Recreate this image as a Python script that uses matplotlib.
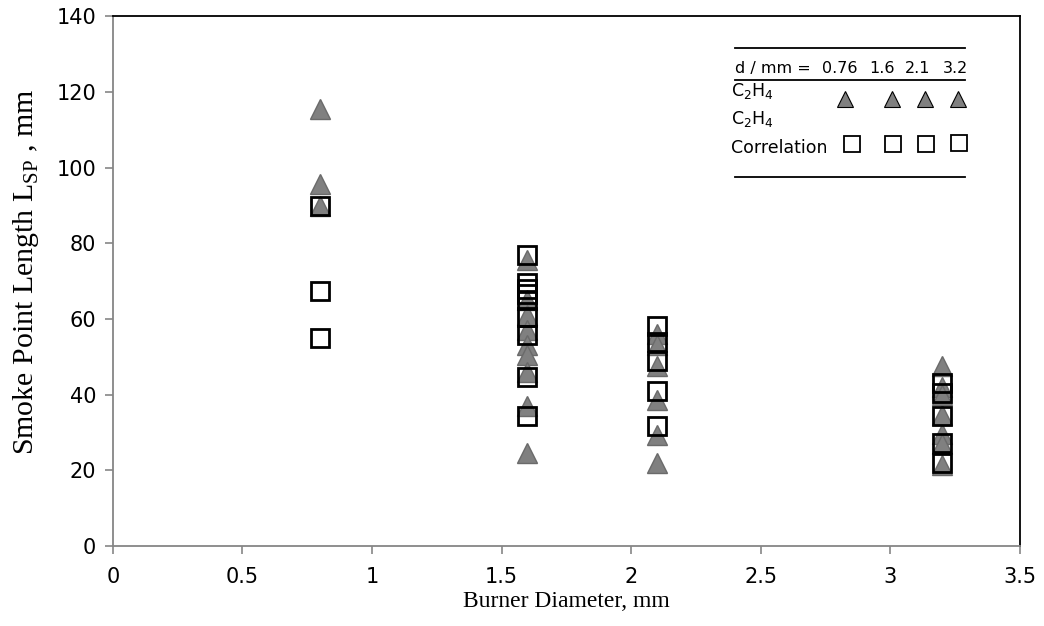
import numpy as np
import matplotlib
matplotlib.use("Agg")
import matplotlib.pyplot as plt

# burner diameters (mm) and smoke point lengths (mm)
d_c2h4 = [0.8, 0.8, 0.8,
          1.6, 1.6, 1.6, 1.6, 1.6, 1.6, 1.6, 1.6, 1.6,
          2.1, 2.1, 2.1, 2.1, 2.1, 2.1,
          3.2, 3.2, 3.2, 3.2, 3.2, 3.2, 3.2]
lsp_c2h4 = [115.5, 95.6, 89.9,
            75.5, 65, 61, 57, 53, 50.5, 46, 37, 24.5,
            56, 53, 47.5, 38.5, 29.3, 22,
            47.5, 42, 40, 34.5, 29.5, 27, 21.5]

d_corr = [0.8, 0.8, 0.8,
          1.6, 1.6, 1.6, 1.6, 1.6, 1.6, 1.6, 1.6, 1.6,
          2.1, 2.1, 2.1, 2.1, 2.1,
          3.2, 3.2, 3.2, 3.2, 3.2]
lsp_corr = [89.9, 67.5, 54.9,
            77, 69.5, 68, 66.5, 65, 60.5, 55.7, 44.6, 34.4,
            58, 54, 49, 41, 31.7,
            43, 40.4, 34.3, 27.2, 21.9]

legend_d = ["0.76", "1.6", "2.1", "3.2"]

plt.rcParams['font.family'] = ['DejaVu Sans']
serif = ['Liberation Serif', 'DejaVu Serif']

fig = plt.figure(figsize=(10.44, 6.26), dpi=100)
ax = fig.add_axes([0.108, 0.128, 0.869, 0.846])

tri_face = '#808080'
tri_edge = '#6a6a6a'
axis_grey = '#868686'

ax.plot(d_c2h4, lsp_c2h4, '^', ms=14, mfc=tri_face, mec=tri_edge, mew=1, zorder=2)
ax.plot(d_corr, lsp_corr, 's', ms=13, mfc='none', mec='black', mew=2, zorder=3)

ax.set_xlim(0, 3.5)
ax.set_ylim(0, 140)
ax.set_xticks(np.arange(0, 3.51, 0.5))
ax.set_xticklabels(['0', '0.5', '1', '1.5', '2', '2.5', '3', '3.5'])
ax.set_yticks(np.arange(0, 141, 20))
ax.tick_params(direction='out', labelsize=15, length=6, width=1.2, color=axis_grey)
ax.tick_params(axis='x', pad=9)
ax.tick_params(axis='y', pad=6)
for side in ['left', 'bottom']:
    ax.spines[side].set_color(axis_grey)
    ax.spines[side].set_linewidth(1.3)
for side in ['top', 'right']:
    ax.spines[side].set_linewidth(1.3)

ax.set_xlabel('Burner Diameter, mm', fontsize=17, family=serif, labelpad=3)
ax.set_ylabel(r'Smoke Point Length L$_{\mathregular{SP}}$ , mm', fontsize=21.5, family=serif)
ax.yaxis.set_label_coords(-0.079, 0.517)

# table-style legend in the upper right
tr = ax.transAxes
for yy in [0.941, 0.8806, 0.6968]:
    ax.plot([0.686, 0.939], [yy, yy], color='black', lw=1.3, transform=tr, clip_on=False)

ax.text(0.686, 0.8925, 'd / mm =', transform=tr, fontsize=11.5, va='baseline', ha='left')
for xx, lab in zip([0.8214, 0.8622, 0.9008, 0.9427], legend_d):
    ax.text(xx, 0.8925, lab, transform=tr, fontsize=11.5, va='baseline', ha='right')

ax.text(0.682, 0.849, r'C$_2$H$_4$', transform=tr, fontsize=12.5, va='baseline', ha='left')
ax.text(0.682, 0.797, r'C$_2$H$_4$', transform=tr, fontsize=12.5, va='baseline', ha='left')
ax.text(0.682, 0.7415, 'Correlation', transform=tr, fontsize=12.5, va='baseline', ha='left')

ax.plot([0.807, 0.859, 0.895, 0.9316], [0.8434] * 4, '^', ms=12, mfc=tri_face,
        mec='black', mew=0.8, transform=tr, clip_on=False)
ax.plot([0.8148, 0.860, 0.8964, 0.9327], [0.7585, 0.7585, 0.759, 0.7613], 's', ms=11,
        mfc='white', mec='black', mew=1.3, transform=tr, clip_on=False)

fig.savefig('out.png', dpi=100)
